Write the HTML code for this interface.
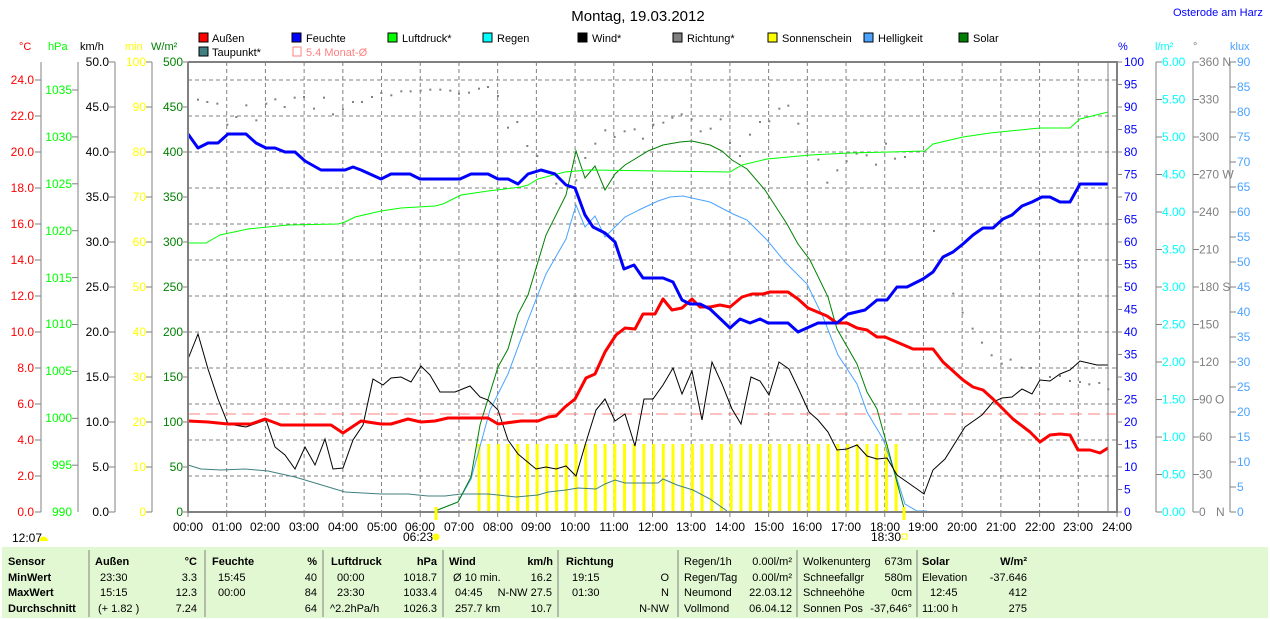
<!DOCTYPE html>
<html><head><meta charset="utf-8"><style>
html,body{margin:0;padding:0;background:#fff;width:1270px;height:619px;overflow:hidden}
svg{display:block;font-family:"Liberation Sans",sans-serif}
</style></head><body>
<svg id="s" width="1270" height="619" viewBox="0 0 1270 619" xmlns="http://www.w3.org/2000/svg">
<rect x="0" y="0" width="1270" height="619" fill="#fff"/>
<!-- title -->
<text x="638" y="21" font-size="15" text-anchor="middle" fill="#000">Montag, 19.03.2012</text>
<text x="1173" y="16" font-size="11" fill="#0000ff">Osterode am Harz</text>
<!-- legend -->
<g font-size="11" fill="#000">
<rect x="199" y="33" width="9" height="9" fill="#ff0000" stroke="#000"/><text x="212" y="42">Außen</text>
<rect x="292" y="33" width="9" height="9" fill="#0000ff" stroke="#000"/><text x="306" y="42">Feuchte</text>
<rect x="388" y="33" width="9" height="9" fill="#00ff00" stroke="#000"/><text x="402" y="42">Luftdruck*</text>
<rect x="483" y="33" width="9" height="9" fill="#00ffff" stroke="#000"/><text x="497" y="42">Regen</text>
<rect x="578" y="33" width="9" height="9" fill="#000" stroke="#000"/><text x="592" y="42">Wind*</text>
<rect x="673" y="33" width="9" height="9" fill="#808080" stroke="#000"/><text x="687" y="42">Richtung*</text>
<rect x="768" y="33" width="9" height="9" fill="#ffff00" stroke="#000"/><text x="782" y="42">Sonnenschein</text>
<rect x="864" y="33" width="9" height="9" fill="#4aa3ff" stroke="#000"/><text x="878" y="42">Helligkeit</text>
<rect x="959" y="33" width="9" height="9" fill="#008000" stroke="#000"/><text x="973" y="42">Solar</text>
<rect x="199" y="47" width="9" height="9" fill="#408080" stroke="#000"/><text x="212" y="56">Taupunkt*</text>
<rect x="293" y="47" width="8" height="9" fill="none" stroke="#ff8080"/><text x="306" y="56" fill="#ff8080">5.4 Monat-Ø</text>
</g>
<!-- axis headers -->
<g font-size="11">
<text x="19" y="50" fill="#ff0000">°C</text>
<text x="48" y="50" fill="#00ff00">hPa</text>
<text x="80" y="50" fill="#000">km/h</text>
<text x="125" y="50" fill="#ffff00">min</text>
<text x="151" y="50" fill="#008000">W/m²</text>
<text x="1118" y="50" fill="#0000ff">%</text>
<text x="1155" y="50" fill="#00ffff">l/m²</text>
<text x="1193" y="50" fill="#808080">°</text>
<text x="1230" y="50" fill="#4aa3ff">klux</text>
</g>
<g id="grid"></g>
<g id="bars"></g>
<!-- pink dashed monthly mean -->
<line x1="188" y1="414" x2="1117" y2="414" stroke="#ff8080" stroke-dasharray="12,6"/>
<!-- dots richtung -->
<g fill="#808080" transform="translate(188,62) scale(0.3333)">
<g id="d1"></g>
</g>
<g fill="#808080" transform="translate(650,62) scale(0.3333)">
<g id="d2"></g>
</g>
<!-- series -->
<polyline fill="none" stroke="#408080" stroke-width="1" points="188,465 201,469 221,470 245,469 268,471 295,477 345,492 381,494 408,494 428,496 445,496 461,494 488,494 498,495 516,497 538,495 548,492 566,490 578,488 596,489 605,484 615,480 625,483 645,483 658,483 663,479 677,485 693,490 710,499 727,511"/>
<polyline fill="none" stroke="#4aa3ff" stroke-width="1" points="435,511 458,502 471,479 490,410 508,374 528,320 546,274 566,239 576,205 585,227 595,216 605,237 625,217 641,209 658,201 670,197 683,196 710,202 733,214 747,220 767,240 785,262 807,284 823,317 838,355 857,384 867,412 883,439 897,479 905,504 917,511 927,511"/>
<polyline fill="none" stroke="#008000" stroke-width="1" points="435,511 458,502 471,477 480,425 498,367 508,349 518,314 528,295 546,235 566,195 576,151 585,178 595,166 605,190 615,174 625,165 648,151 663,145 680,142 692,141 710,145 722,151 732,160 747,169 765,190 787,224 798,244 810,260 828,297 837,329 857,364 867,392 877,409 887,445 905,512"/>
<polyline fill="none" stroke="#00ff00" stroke-width="1" points="188,243 206,243 220,235 248,229 288,225 338,224 345,222 355,217 381,211 401,208 435,206 443,204 461,195 488,191 521,187 528,185 538,179 565,172 588,170 658,171 730,172 742,165 767,159 810,155 850,153 890,152 925,151 933,144 963,137 990,133 1040,128 1070,128 1080,119 1108,112"/>
<polyline fill="none" stroke="#000" stroke-width="1" points="188,359 198,334 208,369 218,399 228,424 246,427 266,420 275,447 285,455 295,469 305,447 315,465 325,439 333,469 343,468 353,440 363,425 373,379 383,385 391,378 401,377 411,382 421,366 430,375 440,392 455,392 470,386 480,397 488,400 498,410 508,440 518,454 536,469 546,467 556,469 566,466 576,476 586,442 596,410 605,399 615,421 625,414 635,446 644,399 653,399 663,385 673,368 682,394 692,371 702,420 712,362 722,384 732,409 741,424 751,377 760,381 769,395 779,362 789,369 799,390 809,412 818,420 828,432 837,450 847,449 857,445 867,456 877,459 887,458 897,475 907,482 917,489 924,494 933,470 945,459 965,427 982,415 993,402 1002,398 1012,397 1022,389 1032,394 1040,380 1050,381 1060,374 1070,370 1080,361 1097,365 1108,365"/>
<polyline fill="none" stroke="#ff0000" stroke-width="3" stroke-linejoin="round" points="188,421 208,422 228,424 251,424 265,419 281,425 331,425 343,433 361,421 381,424 391,424 408,419 421,422 435,421 448,418 488,418 498,424 521,421 538,421 548,417 556,416 565,407 575,399 586,378 595,374 605,352 616,335 625,328 635,329 643,314 655,314 663,299 672,310 682,308 692,299 700,307 710,307 720,305 730,307 742,297 752,294 763,294 770,292 788,292 798,299 808,308 827,316 837,323 847,323 857,328 867,330 877,337 885,337 913,349 923,349 933,349 943,362 963,380 973,387 983,390 993,399 1013,419 1030,432 1040,442 1050,435 1060,434 1070,435 1078,450 1090,450 1100,453 1108,448"/>
<polyline fill="none" stroke="#0000ff" stroke-width="3" stroke-linejoin="round" points="188,134 198,148 208,143 218,143 228,134 246,134 256,143 266,148 275,148 285,152 295,152 305,161 321,170 345,170 353,167 361,170 381,179 391,174 410,174 420,179 460,179 471,174 488,174 498,179 508,179 518,184 528,174 541,170 555,174 566,185 575,188 585,215 593,227 605,233 615,242 624,269 634,265 643,278 663,278 673,282 682,300 690,304 700,304 710,309 730,328 740,319 750,323 760,319 768,323 788,323 798,332 818,323 837,323 848,314 865,310 877,300 887,300 897,287 907,287 923,279 933,272 943,257 953,252 963,244 973,235 983,228 993,228 1003,219 1012,215 1022,206 1032,202 1042,197 1050,197 1060,202 1070,202 1080,184 1108,184"/>
<g id="axes"></g>
<!-- sunrise / sunset markers -->
<line x1="436" y1="507" x2="436" y2="520" stroke="#ffff00" stroke-width="3"/>
<line x1="904" y1="507" x2="904" y2="520" stroke="#ffff00" stroke-width="3"/>
<g font-size="12" fill="#000">
<text x="403" y="541">06:23</text><circle cx="436" cy="537" r="3.5" fill="#ffff00"/>
<text x="871" y="541">18:30</text><rect x="902" y="534" width="5" height="5" fill="none" stroke="#ffff00"/>
<text x="12" y="542">12:07</text><path d="M39,541 a4,4 0 0 1 9,0 z" fill="#ffff00"/>
</g>
<!-- left tick labels -->
<g font-size="12" text-anchor="end">
<g fill="#ff0000">
<text x="34" y="84">24.0</text><text x="34" y="120">22.0</text><text x="34" y="156">20.0</text><text x="34" y="192">18.0</text><text x="34" y="228">16.0</text><text x="34" y="264">14.0</text><text x="34" y="300">12.0</text><text x="34" y="336">10.0</text><text x="34" y="372">8.0</text><text x="34" y="408">6.0</text><text x="34" y="444">4.0</text><text x="34" y="480">2.0</text><text x="34" y="516">0.0</text>
</g>
<g fill="#00ff00">
<text x="72" y="94">1035</text><text x="72" y="141">1030</text><text x="72" y="188">1025</text><text x="72" y="235">1020</text><text x="72" y="282">1015</text><text x="72" y="328">1010</text><text x="72" y="375">1005</text><text x="72" y="422">1000</text><text x="72" y="469">995</text><text x="72" y="516">990</text>
</g>
<g fill="#000">
<text x="109" y="66">50.0</text><text x="109" y="111">45.0</text><text x="109" y="156">40.0</text><text x="109" y="201">35.0</text><text x="109" y="246">30.0</text><text x="109" y="291">25.0</text><text x="109" y="336">20.0</text><text x="109" y="381">15.0</text><text x="109" y="426">10.0</text><text x="109" y="471">5.0</text><text x="109" y="516">0.0</text>
</g>
<g fill="#ffff00">
<text x="146" y="66">100</text><text x="146" y="111">90</text><text x="146" y="156">80</text><text x="146" y="201">70</text><text x="146" y="246">60</text><text x="146" y="291">50</text><text x="146" y="336">40</text><text x="146" y="381">30</text><text x="146" y="426">20</text><text x="146" y="471">10</text><text x="146" y="516">0</text>
</g>
<g fill="#008000">
<text x="183" y="66">500</text><text x="183" y="111">450</text><text x="183" y="156">400</text><text x="183" y="201">350</text><text x="183" y="246">300</text><text x="183" y="291">250</text><text x="183" y="336">200</text><text x="183" y="381">150</text><text x="183" y="426">100</text><text x="183" y="471">50</text><text x="183" y="516">0</text>
</g>
</g>
<!-- right tick labels -->
<g font-size="12">
<g fill="#0000ff">
<text x="1124" y="66">100</text><text x="1124" y="88.5">95</text><text x="1124" y="111">90</text><text x="1124" y="133.5">85</text><text x="1124" y="156">80</text><text x="1124" y="178.5">75</text><text x="1124" y="201">70</text><text x="1124" y="223.5">65</text><text x="1124" y="246">60</text><text x="1124" y="268.5">55</text><text x="1124" y="291">50</text><text x="1124" y="313.5">45</text><text x="1124" y="336">40</text><text x="1124" y="358.5">35</text><text x="1124" y="381">30</text><text x="1124" y="403.5">25</text><text x="1124" y="426">20</text><text x="1124" y="448.5">15</text><text x="1124" y="471">10</text><text x="1124" y="493.5">5</text><text x="1124" y="516">0</text>
</g>
<g fill="#00ffff">
<text x="1162" y="66">6.00</text><text x="1162" y="103.5">5.50</text><text x="1162" y="141">5.00</text><text x="1162" y="178.5">4.50</text><text x="1162" y="216">4.00</text><text x="1162" y="253.5">3.50</text><text x="1162" y="291">3.00</text><text x="1162" y="328.5">2.50</text><text x="1162" y="366">2.00</text><text x="1162" y="403.5">1.50</text><text x="1162" y="441">1.00</text><text x="1162" y="478.5">0.50</text><text x="1162" y="516">0.00</text>
</g>
<g fill="#808080">
<text x="1199" y="66">360 N</text><text x="1199" y="103.5">330</text><text x="1199" y="141">300</text><text x="1199" y="178.5">270 W</text><text x="1199" y="216">240</text><text x="1199" y="253.5">210</text><text x="1199" y="291">180 S</text><text x="1199" y="328.5">150</text><text x="1199" y="366">120</text><text x="1199" y="403.5">90</text><text x="1215" y="403.5">O</text><text x="1199" y="441">60</text><text x="1199" y="478.5">30</text><text x="1199" y="516">0</text><text x="1216" y="516">N</text>
</g>
<g fill="#4aa3ff">
<text x="1237" y="66">90</text><text x="1237" y="91">85</text><text x="1237" y="116">80</text><text x="1237" y="141">75</text><text x="1237" y="166">70</text><text x="1237" y="191">65</text><text x="1237" y="216">60</text><text x="1237" y="241">55</text><text x="1237" y="266">50</text><text x="1237" y="291">45</text><text x="1237" y="316">40</text><text x="1237" y="341">35</text><text x="1237" y="366">30</text><text x="1237" y="391">25</text><text x="1237" y="416">20</text><text x="1237" y="441">15</text><text x="1237" y="466">10</text><text x="1237" y="491">5</text><text x="1237" y="516">0</text>
</g>
</g>
<!-- x labels -->
<g font-size="12" text-anchor="middle" fill="#000">
<text x="188" y="531">00:00</text><text x="227" y="531">01:00</text><text x="265" y="531">02:00</text><text x="304" y="531">03:00</text><text x="343" y="531">04:00</text><text x="382" y="531">05:00</text><text x="420" y="531">06:00</text><text x="459" y="531">07:00</text><text x="498" y="531">08:00</text><text x="536" y="531">09:00</text><text x="575" y="531">10:00</text><text x="614" y="531">11:00</text><text x="653" y="531">12:00</text><text x="691" y="531">13:00</text><text x="730" y="531">14:00</text><text x="769" y="531">15:00</text><text x="807" y="531">16:00</text><text x="846" y="531">17:00</text><text x="885" y="531">18:00</text><text x="923" y="531">19:00</text><text x="962" y="531">20:00</text><text x="1001" y="531">21:00</text><text x="1040" y="531">22:00</text><text x="1078" y="531">23:00</text><text x="1117" y="531">24:00</text>
</g>
<!-- table -->
<rect x="2" y="547" width="1266" height="71" fill="#e2f8d2"/>
<g stroke="#808080" stroke-width="1">
<line x1="89" y1="550" x2="89" y2="617"/><line x1="205" y1="550" x2="205" y2="617"/><line x1="323" y1="550" x2="323" y2="617"/><line x1="443" y1="550" x2="443" y2="617"/><line x1="558" y1="550" x2="558" y2="617"/><line x1="678" y1="550" x2="678" y2="617"/><line x1="797" y1="550" x2="797" y2="617"/><line x1="917" y1="550" x2="917" y2="617"/>
</g>
<g font-size="11" fill="#000">
<g font-weight="bold">
<text x="8" y="565">Sensor</text><text x="8" y="581">MinWert</text><text x="8" y="596">MaxWert</text><text x="8" y="612">Durchschnitt</text>
<text x="95" y="565">Außen</text><text x="197" y="565" text-anchor="end">°C</text>
<text x="212" y="565">Feuchte</text><text x="317" y="565" text-anchor="end">%</text>
<text x="331" y="565">Luftdruck</text><text x="437" y="565" text-anchor="end">hPa</text>
<text x="449" y="565">Wind</text><text x="553" y="565" text-anchor="end">km/h</text>
<text x="566" y="565">Richtung</text>
<text x="922" y="565">Solar</text><text x="1027" y="565" text-anchor="end">W/m²</text>
</g>
<text x="100" y="581">23:30</text><text x="197" y="581" text-anchor="end">3.3</text>
<text x="100" y="596">15:15</text><text x="197" y="596" text-anchor="end">12.3</text>
<text x="98" y="612">(+ 1.82 )</text><text x="197" y="612" text-anchor="end">7.24</text>
<text x="218" y="581">15:45</text><text x="317" y="581" text-anchor="end">40</text>
<text x="218" y="596">00:00</text><text x="317" y="596" text-anchor="end">84</text>
<text x="317" y="612" text-anchor="end">64</text>
<text x="337" y="581">00:00</text><text x="437" y="581" text-anchor="end">1018.7</text>
<text x="337" y="596">23:30</text><text x="437" y="596" text-anchor="end">1033.4</text>
<text x="330" y="612">^2.2hPa/h</text><text x="437" y="612" text-anchor="end">1026.3</text>
<text x="453" y="581">Ø 10 min.</text><text x="552" y="581" text-anchor="end">16.2</text>
<text x="455" y="596">04:45</text><text x="552" y="596" text-anchor="end">N-NW 27.5</text>
<text x="455" y="612">257.7 km</text><text x="552" y="612" text-anchor="end">10.7</text>
<text x="572" y="581">19:15</text><text x="669" y="581" text-anchor="end">O</text>
<text x="572" y="596">01:30</text><text x="669" y="596" text-anchor="end">N</text>
<text x="669" y="612" text-anchor="end">N-NW</text>
<text x="684" y="565">Regen/1h</text><text x="792" y="565" text-anchor="end">0.00l/m²</text>
<text x="684" y="581">Regen/Tag</text><text x="792" y="581" text-anchor="end">0.00l/m²</text>
<text x="684" y="596">Neumond</text><text x="792" y="596" text-anchor="end">22.03.12</text>
<text x="684" y="612">Vollmond</text><text x="792" y="612" text-anchor="end">06.04.12</text>
<text x="803" y="565">Wolkenunterg</text><text x="912" y="565" text-anchor="end">673m</text>
<text x="803" y="581">Schneefallgr</text><text x="912" y="581" text-anchor="end">580m</text>
<text x="803" y="596">Schneehöhe</text><text x="912" y="596" text-anchor="end">0cm</text>
<text x="803" y="612">Sonnen Pos</text><text x="912" y="612" text-anchor="end">-37,646°</text>
<text x="922" y="581">Elevation</text><text x="1027" y="581" text-anchor="end">-37.646</text>
<text x="930" y="596">12:45</text><text x="1027" y="596" text-anchor="end">412</text>
<text x="922" y="612">11:00 h</text><text x="1027" y="612" text-anchor="end">275</text>
</g>
</svg>
<script>
(function(){
var NS="http://www.w3.org/2000/svg";
function el(p,n,a){var e=document.createElementNS(NS,n);for(var k in a)e.setAttribute(k,a[k]);p.appendChild(e);return e;}
var g=document.getElementById("grid");
for(var h=1;h<24;h++){var x=188+h*929/24;el(g,"line",{x1:x,y1:62,x2:x,y2:512,stroke:"#808080","stroke-dasharray":"4,3"});}
for(var y=80;y<512;y+=36){el(g,"line",{x1:188,y1:y,x2:1117,y2:y,stroke:"#808080","stroke-dasharray":"4,3"});}
var b=document.getElementById("bars");
for(var x=479;x<=897;x+=9.7){el(b,"rect",{x:x-1.5,y:444,width:3,height:68,fill:"#ffff00"});}
var d1=[[30,113],[58,120],[88,125],[118,188],[145,165],[175,130],[205,175],[235,125],[262,112],[290,135],[320,107],[348,105],[378,140],[408,107],[435,157],[465,142],[495,120],[522,120],[552,105],[580,93],[610,100],[640,88],[668,88],[698,86],[727,83],[757,83],[787,86],[813,95],[843,92],[873,80],[900,75],[930,102],[960,197],[988,180],[1018,252],[1048,282],[1105,365],[1165,355],[1192,288],[1222,245],[1252,205],[1280,225],[1310,208],[1340,202],[1365,230],[1395,190]];
var d2=[[10,188],[40,182],[67,167],[95,157],[125,172],[152,208],[182,200],[212,172],[240,243],[270,282],[300,218],[330,180],[358,178],[388,140],[415,131],[445,185],[472,268],[505,293],[532,362],[562,325],[590,298],[620,275],[650,280],[678,308],[708,245],[735,290],[765,285],[852,507],[910,695],[938,752],[968,800],[996,842],[1025,880],[1055,905],[1082,893],[1115,917],[1142,918],[1200,945],[1230,942],[1260,957],[1290,960],[1318,967],[1348,963],[1375,982]];
var g1=document.getElementById("d1"),g2=document.getElementById("d2");
d1.forEach(function(p){el(g1,"rect",{x:p[0]-3,y:p[1]-3,width:6,height:6});});
d2.forEach(function(p){el(g2,"rect",{x:p[0]-3,y:p[1]-3,width:6,height:6});});
var a=document.getElementById("axes");
// frame
el(a,"line",{x1:188,y1:62,x2:1117,y2:62,stroke:"#808080","stroke-width":2});
el(a,"line",{x1:188,y1:62,x2:188,y2:513,stroke:"#808080","stroke-width":2});
el(a,"line",{x1:188,y1:512,x2:1117,y2:512,stroke:"#808080","stroke-width":2});
el(a,"line",{x1:1117,y1:61,x2:1117,y2:513,stroke:"#808080","stroke-width":2});
el(a,"line",{x1:1108,y1:62,x2:1108,y2:512,stroke:"#808080","stroke-width":1});
function axis(x,dir,ys){el(a,"line",{x1:x,y1:62,x2:x,y2:512,stroke:"#808080"});ys.forEach(function(y){el(a,"line",{x1:x,y1:y,x2:x+dir*6,y2:y,stroke:"#808080"});});}
function rng(s,e,st){var r=[];for(var y=s;y<=e+0.01;y+=st)r.push(y);return r;}
axis(41,-1,rng(80,512,36));
axis(78,-1,rng(90,512,46.9));
axis(115,-1,rng(62,512,45));
axis(152,-1,rng(62,512,45));
rng(62,512,45).forEach(function(y){el(a,"line",{x1:183,y1:y,x2:188,y2:y,stroke:"#808080"});});
rng(62,512,22.5).forEach(function(y){el(a,"line",{x1:1117,y1:y,x2:1122,y2:y,stroke:"#808080"});});
axis(1156,1,rng(62,512,37.5));
axis(1193,1,rng(62,512,37.5));
axis(1230,1,rng(62,512,25));
for(var h=0;h<=24;h++){var x=188+h*929/24;el(a,"line",{x1:x,y1:512,x2:x,y2:517,stroke:"#808080"});}
})();
</script>
</body></html>
